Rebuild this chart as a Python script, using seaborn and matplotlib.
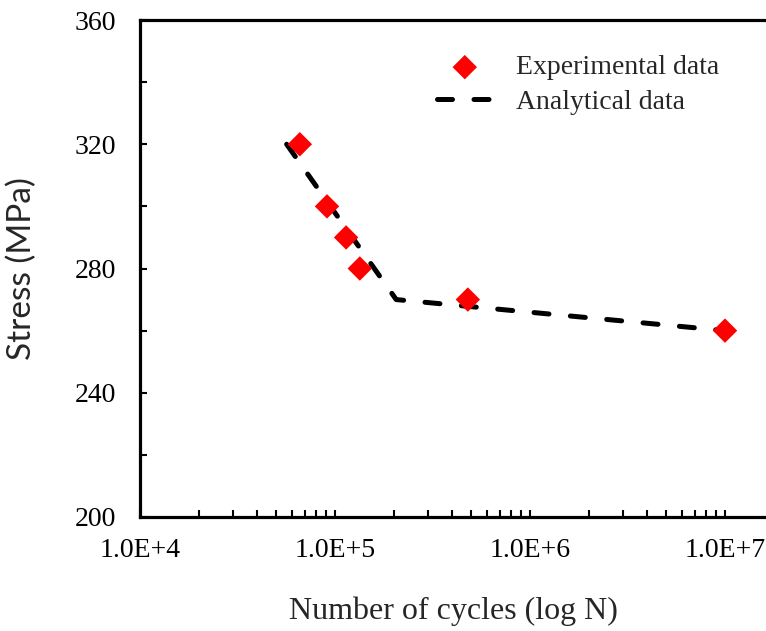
import numpy as np
import pandas as pd
import matplotlib
matplotlib.use("Agg")
import matplotlib.pyplot as plt
import matplotlib.ticker as mticker
import seaborn as sns

# Data
exp_cycles = [6.6e4, 9.1e4, 1.14e5, 1.34e5, 4.8e5, 1.0e7]
exp_stress = [320, 300, 290, 280, 270, 260]
ana_cycles = [5.65e4, 2.06e5, 1.0e7]
ana_stress = [320, 270, 260]
x_ticks = [1e4, 1e5, 1e6, 1e7]
x_tick_labels = ["1.0E+4", "1.0E+5", "1.0E+6", "1.0E+7"]
y_ticks = [200, 240, 280, 320, 360]

sns.set_style("white")
plt.rcParams['font.family'] = ['Liberation Serif', 'DejaVu Serif']

fig = plt.figure(figsize=(7.66, 6.31), dpi=100)
ax = fig.add_axes([140/766, (631-517)/631, (766-140)/766, (517-20)/631])

exp_df = pd.DataFrame({"N": exp_cycles, "S": exp_stress})
ana_df = pd.DataFrame({"N": ana_cycles, "S": ana_stress})

sns.lineplot(data=ana_df, x="N", y="S", ax=ax, color="black", lw=3.6,
             linestyle=(0, (3.0, 4.3)), dash_capstyle="round",
             label="Analytical data", zorder=2)
sns.scatterplot(data=exp_df, x="N", y="S", ax=ax, color="red", marker="D",
                s=155, edgecolor="none", label="Experimental data", zorder=3)

ax.set_xscale("log")
ax.set_xlim(1e4, 10**(4 + 626/195))
ax.set_ylim(200, 360)
ax.set_xticks(x_ticks)
ax.set_xticklabels(x_tick_labels)
ax.xaxis.set_minor_locator(mticker.LogLocator(base=10, subs=np.arange(2, 10)))
ax.xaxis.set_minor_formatter(mticker.NullFormatter())
ax.set_yticks(y_ticks)
ax.yaxis.set_minor_locator(mticker.MultipleLocator(20))

for side in ["left", "bottom", "top"]:
    ax.spines[side].set_linewidth(2.3)
    ax.spines[side].set_color("black")
ax.spines["right"].set_visible(False)

ax.tick_params(axis="both", which="both", direction="in", length=5, width=1.5,
               colors="black", labelsize=20)
ax.tick_params(axis="x", which="both", pad=15, top=False, bottom=True)
ax.tick_params(axis="y", which="both", pad=17, left=True, right=False)

ax.set_xlabel("Number of cycles (log N)", fontsize=23)
ax.set_ylabel("Stress (MPa)", fontsize=24, family=["Lato", "DejaVu Sans"])
ax.xaxis.set_label_coords(313/626, (517-611)/497)
ax.xaxis.label.set_verticalalignment("center")
ax.yaxis.set_label_coords((22-140)/626, 0.5)
ax.yaxis.label.set_verticalalignment("center")

handles, labels = ax.get_legend_handles_labels()
order = [labels.index("Experimental data"), labels.index("Analytical data")]
ax.legend([handles[i] for i in order], [labels[i] for i in order],
          frameon=False, fontsize=20, loc="upper left",
          bbox_to_anchor=(437/766, 1 - 55/631), bbox_transform=fig.transFigure,
          handlelength=2.0, handletextpad=0.83, labelspacing=0.33, borderpad=0,
          borderaxespad=0)

fig.savefig("out.png", dpi=100)
